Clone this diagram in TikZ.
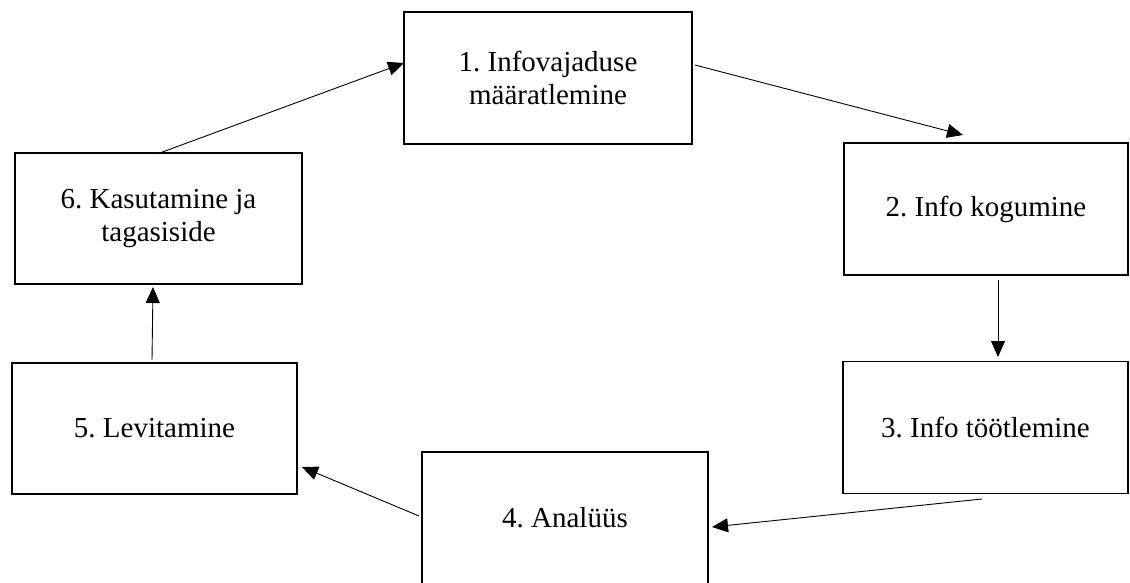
\documentclass[tikz,border=0pt]{standalone}
\usepackage{fontspec}
\setmainfont{Liberation Serif}
\usetikzlibrary{arrows.meta}
\frenchspacing
\begin{document}
\begin{tikzpicture}[x=1pt,y=-1pt,
  stepbox/.style={draw=black, line width=1.9pt, rectangle, inner sep=0pt,
    minimum width=#1, minimum height=132pt, align=center,
    font=\fontsize{29pt}{33pt}\selectfont},
  stepbox/.default=286pt,
  arr/.style={line width=0.9pt, -{Triangle[length=16pt,width=14pt]}}]
\useasboundingbox (0,0) rectangle (1130,583);
\node[stepbox=288pt] (n1) at (548,78) {1. Infovajaduse\\määratlemine};
\node[stepbox=284pt] (n2) at (986,209) {2. Info kogumine};
\node[stepbox=285pt] (n3) at (985.5,427.5) {3. Info töötlemine};
\node[stepbox=286pt] (n4) at (565,518) {4. Analüüs};
\node[stepbox=285pt, minimum height=131pt] (n5) at (154.5,428.5) {5. Levitamine};
\node[stepbox=287pt, minimum height=131pt] (n6) at (158.5,218.5) {6. Kasutamine ja\\tagasiside};
\coordinate (a61) at (157,154);  \coordinate (b61) at (404,63);
\coordinate (a12) at (695,65);   \coordinate (b12) at (963,135);
\coordinate (a23) at (998,280);  \coordinate (b23) at (998,357);
\coordinate (a34) at (982,499);  \coordinate (b34) at (712,527);
\coordinate (a45) at (419,516);  \coordinate (b45) at (302,467);
\coordinate (a56) at (152,360);  \coordinate (b56) at (153,287);
\draw[arr] (a61) -- (b61);
\draw[arr] (a12) -- (b12);
\draw[arr] (a23) -- (b23);
\draw[arr] (a34) -- (b34);
\draw[arr] (a45) -- (b45);
\draw[arr] (a56) -- (b56);
\end{tikzpicture}
\end{document}
